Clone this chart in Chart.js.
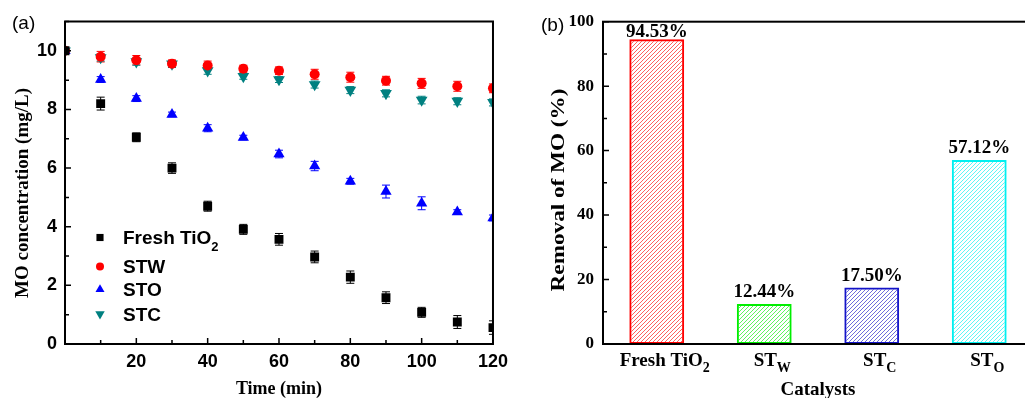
<!DOCTYPE html>
<html>
<head>
<meta charset="utf-8">
<script src="https://cdn.jsdelivr.net/npm/chart.js@4.4.0/dist/chart.umd.min.js"></script>
<style>
    html, body { margin: 0; padding: 0; background: #fff; overflow: hidden; width: 1025px; height: 398px; }
    #marco { position: relative; width: 1025px; height: 398px; overflow: hidden; }
    #panelA { position: absolute; left: 0; top: 0; }
    #panelB { position: absolute; left: 515px; top: 0; }
</style>
</head>
<body>
<div id="marco">
<canvas id="panelA" width="515" height="410" style="width:515px;height:410px"></canvas>
<canvas id="panelB" width="530" height="410" style="width:530px;height:410px"></canvas>
</div>
<script>
// (a) concentracion de MO vs tiempo
const tiempos = [0, 10, 20, 30, 40, 50, 60, 70, 80, 90, 100, 110, 120];
const freshTiO2 = [10, 8.2, 7.05, 6.0, 4.70, 3.91, 3.57, 2.97, 2.28, 1.58, 1.08, 0.75, 0.56];
const errFresh = [0, 0.22, 0.15, 0.18, 0.17, 0.17, 0.2, 0.2, 0.21, 0.2, 0.17, 0.22, 0.23];
const stw = [10, 9.8, 9.68, 9.56, 9.5, 9.39, 9.32, 9.2, 9.1, 8.98, 8.89, 8.79, 8.72];
const errStw = [0, 0.18, 0.16, 0.13, 0.15, 0.12, 0.13, 0.17, 0.17, 0.15, 0.17, 0.17, 0.15];
const sto = [10, 9.02, 8.37, 7.83, 7.36, 7.04, 6.48, 6.07, 5.55, 5.2, 4.8, 4.5, 4.3];
const errSto = [0, 0.1, 0.1, 0.08, 0.12, 0.08, 0.13, 0.16, 0.1, 0.22, 0.22, 0.08, 0.1];
const stc = [10, 9.77, 9.63, 9.55, 9.32, 9.13, 9.02, 8.85, 8.66, 8.55, 8.32, 8.28, 8.24];
const errStc = [0, 0.12, 0.12, 0.12, 0.12, 0.1, 0.1, 0.12, 0.12, 0.12, 0.13, 0.12, 0.12];
const seriesBase = ['Fresh TiO', 'STW', 'STO', 'STC'];
const seriesSub = ['2', '', '', ''];

// (b) remocion de MO por catalizador
const catBase = ['Fresh TiO', 'ST', 'ST', 'ST'];
const catSub = ['2', 'W', 'C', 'O'];
const remocion = [94.53, 12.44, 17.50, 57.12];

const serif = 'Liberation Serif';
const sans = 'Liberation Sans';

function puntos(valores) {
    return tiempos.map((t, i) => ({ x: t, y: valores[i] }));
}

// texto con subindice
function textoSub(ctx, base, sub, x, y, fuente, fuenteSub, bajada, alinear) {
    ctx.font = fuente;
    const w1 = ctx.measureText(base).width;
    ctx.font = fuenteSub;
    const w2 = sub ? ctx.measureText(sub).width : 0;
    let x0 = alinear === 'center' ? x - (w1 + w2) / 2 : x;
    ctx.textAlign = 'left';
    ctx.textBaseline = 'alphabetic';
    ctx.font = fuente;
    ctx.fillText(base, x0, y);
    if (sub) {
        ctx.font = fuenteSub;
        ctx.fillText(sub, x0 + w1, y + bajada);
    }
}

// marco, ticks hacia adentro, titulo Y y etiqueta del panel
const marcoEjes = {
    id: 'marcoEjes',
    afterDatasetsDraw(chart, args, opts) {
        const { ctx, chartArea: a, scales: { x, y } } = chart;
        ctx.save();
        ctx.strokeStyle = '#000';
        ctx.lineWidth = 1.5;
        ctx.beginPath();
        for (let v = y.min; v <= y.max; v += opts.yMenor) {
            const py = y.getPixelForValue(v);
            const largo = (Math.round(v) % opts.yMayor === 0) ? 6 : 4;
            ctx.moveTo(a.left, py);
            ctx.lineTo(a.left + largo, py);
        }
        if (opts.xMenor) {
            for (let v = x.min; v <= x.max; v += opts.xMenor) {
                const px = x.getPixelForValue(v);
                const largo = (v % opts.xMayor === 0) ? 6 : 4;
                ctx.moveTo(px, a.bottom);
                ctx.lineTo(px, a.bottom - largo);
            }
        }
        ctx.stroke();
        ctx.lineWidth = 2;
        ctx.strokeRect(a.left, a.top, a.right - a.left, a.bottom - a.top);

        ctx.fillStyle = '#000';
        ctx.font = '19px ' + sans;
        ctx.textAlign = 'left';
        ctx.textBaseline = 'middle';
        ctx.fillText(opts.etiqueta, opts.etqX, opts.etqY);

        ctx.translate(opts.tituloX, opts.tituloY);
        ctx.rotate(-Math.PI / 2);
        ctx.scale(opts.tituloEstira, 1);
        ctx.font = 'bold 19px ' + serif;
        ctx.textAlign = 'center';
        ctx.fillText(opts.titulo, 0, 0);
        ctx.restore();
    }
};

const barrasError = {
    id: 'barrasError',
    beforeDatasetsDraw(chart) {
        const { ctx, chartArea: a, scales: { x, y } } = chart;
        ctx.save();
        ctx.beginPath();
        ctx.rect(a.left, a.top, a.right - a.left, a.bottom - a.top);
        ctx.clip();
        chart.data.datasets.forEach(ds => {
            if (!ds.errores) return;
            ctx.strokeStyle = ds.backgroundColor;
            ctx.lineWidth = 1;
            ds.data.forEach((p, i) => {
                const e = ds.errores[i];
                if (!e) return;
                const px = x.getPixelForValue(p.x);
                const y1 = y.getPixelForValue(p.y + e);
                const y2 = y.getPixelForValue(p.y - e);
                ctx.beginPath();
                ctx.moveTo(px, y1); ctx.lineTo(px, y2);
                ctx.moveTo(px - 4, y1); ctx.lineTo(px + 4, y1);
                ctx.moveTo(px - 4, y2); ctx.lineTo(px + 4, y2);
                ctx.stroke();
            });
        });
        ctx.restore();
    }
};

const leyendaA = {
    id: 'leyendaA',
    afterDraw(chart) {
        const { ctx, chartArea: a } = chart;
        const filas = [216, 245, 268, 292.5];
        ctx.save();
        chart.data.datasets.forEach((ds, i) => {
            const yy = a.top + filas[i];
            ctx.fillStyle = ds.backgroundColor;
            ctx.strokeStyle = ds.backgroundColor;
            Chart.helpers.drawPoint(ctx, {
                pointStyle: ds.pointStyle,
                radius: ds.pointRadius * 0.8,
                rotation: ds.pointRotation || 0,
                borderWidth: 0
            }, a.left + 35, yy);
            ctx.fillStyle = '#000';
            textoSub(ctx, seriesBase[i], seriesSub[i], a.left + 58, yy + 6.5,
                'bold 19px ' + sans, 'bold 13px ' + sans, 7, 'left');
        });
        ctx.restore();
    }
};

new Chart(document.getElementById('panelA'), {
    type: 'scatter',
    data: {
        datasets: [
            { label: 'Fresh TiO2', data: puntos(freshTiO2), errores: errFresh, pointStyle: 'rect', pointRadius: 6.3,
              backgroundColor: '#000000', borderColor: '#000000', borderWidth: 0, clip: 0 },
            { label: 'STW', data: puntos(stw), errores: errStw, pointStyle: 'circle', pointRadius: 5,
              backgroundColor: '#ff0000', borderColor: '#ff0000', borderWidth: 0, clip: 0 },
            { label: 'STO', data: puntos(sto), errores: errSto, pointStyle: 'triangle', pointRadius: 6.5,
              backgroundColor: '#0000ff', borderColor: '#0000ff', borderWidth: 0, clip: 0 },
            { label: 'STC', data: puntos(stc), errores: errStc, pointStyle: 'triangle', pointRadius: 6.8, pointRotation: 180,
              backgroundColor: '#008080', borderColor: '#008080', borderWidth: 0, clip: 0 }
        ]
    },
    options: {
        responsive: false,
        animation: false,
        events: [],
        layout: { padding: { top: 21.5, right: 20, left: 0, bottom: 0 } },
        plugins: {
            legend: { display: false },
            tooltip: { enabled: false },
            marcoEjes: { yMenor: 1, yMayor: 2, xMenor: 10, xMayor: 20, etiqueta: '(a)', etqX: 12, etqY: 24,
                         titulo: 'MO concentration (mg/L)', tituloEstira: 1, tituloX: 23, tituloY: 193 }
        },
        scales: {
            x: {
                type: 'linear', min: 0, max: 120,
                ticks: { stepSize: 20, padding: 7, color: '#000', font: { family: sans, weight: 'bold', size: 18 },
                         callback: v => v === 0 ? '' : v },
                grid: { display: false, drawTicks: false },
                border: { display: false },
                title: { display: true, text: 'Time (min)', color: '#000',
                         font: { family: serif, weight: 'bold', size: 18 }, padding: { top: 0, bottom: 10 } },
                afterFit: s => { s.height = 66; }
            },
            y: {
                min: 0, max: 11,
                ticks: { stepSize: 2, includeBounds: false, padding: 8, color: '#000',
                         font: { family: sans, weight: 'bold', size: 18 } },
                grid: { display: false, drawTicks: false },
                border: { display: false },
                afterFit: s => { s.width = 65; }
            }
        }
    },
    plugins: [barrasError, marcoEjes, leyendaA]
});

// tramas diagonales
function crearTrama(color) {
    const c = document.createElement('canvas');
    const s = 4;
    c.width = s; c.height = s;
    const g = c.getContext('2d');
    g.strokeStyle = color;
    g.globalAlpha = 0.7;
    g.lineWidth = 0.9;
    g.beginPath();
    g.moveTo(0, s); g.lineTo(s, 0);
    g.moveTo(-1, 1); g.lineTo(1, -1);
    g.moveTo(s - 1, s + 1); g.lineTo(s + 1, s - 1);
    g.stroke();
    return g.createPattern(c, 'repeat');
}

const coloresBarra = ['#ff0000', '#00ee00', '#1414c8', '#00f0f0'];

const etiquetasB = {
    id: 'etiquetasB',
    afterDraw(chart) {
        const { ctx, chartArea: a, scales: { x } } = chart;
        const meta = chart.getDatasetMeta(0);
        ctx.save();
        ctx.fillStyle = '#000';
        meta.data.forEach((barra, i) => {
            ctx.font = 'bold 19px ' + serif;
            ctx.textAlign = 'center';
            ctx.textBaseline = 'alphabetic';
            const yy = Math.max(barra.y - 7, a.top + 15);
            ctx.fillText(remocion[i].toFixed(2) + '%', barra.x, yy);
            textoSub(ctx, catBase[i], catSub[i], x.getPixelForValue(i) + 8, a.bottom + 22,
                'bold 19px ' + serif, 'bold 14px ' + serif, 6, 'center');
        });
        ctx.restore();
    }
};

new Chart(document.getElementById('panelB'), {
    type: 'bar',
    data: {
        labels: catBase.map((b, i) => b + catSub[i]),
        datasets: [{
            label: 'Removal of MO (%)',
            data: remocion,
            backgroundColor: coloresBarra.map(crearTrama),
            borderColor: coloresBarra,
            borderWidth: 2,
            borderSkipped: false,
            categoryPercentage: 1,
            barPercentage: 0.51
        }]
    },
    options: {
        responsive: false,
        animation: false,
        events: [],
        layout: { padding: { top: 21.7, right: 12, left: 0, bottom: 0 } },
        plugins: {
            legend: { display: false },
            tooltip: { enabled: false },
            marcoEjes: { yMenor: 10, yMayor: 20, xMenor: 0, xMayor: 0, etiqueta: '(b)', etqX: 26, etqY: 26,
                         titulo: 'Removal of MO (%)', tituloEstira: 1.22, tituloX: 44, tituloY: 190 }
        },
        scales: {
            x: {
                ticks: { display: false },
                grid: { display: false, drawTicks: false },
                border: { display: false },
                title: { display: true, text: 'Catalysts', color: '#000',
                         font: { family: serif, weight: 'bold', size: 19 }, padding: { top: 0, bottom: 9 } },
                afterFit: s => { s.height = 66; }
            },
            y: {
                min: 0, max: 100,
                ticks: { stepSize: 20, padding: 9, color: '#000', font: { family: serif, weight: 'bold', size: 17 } },
                grid: { display: false, drawTicks: false },
                border: { display: false },
                afterFit: s => { s.width = 88; }
            }
        }
    },
    plugins: [marcoEjes, etiquetasB]
});
</script>
</body>
</html>
